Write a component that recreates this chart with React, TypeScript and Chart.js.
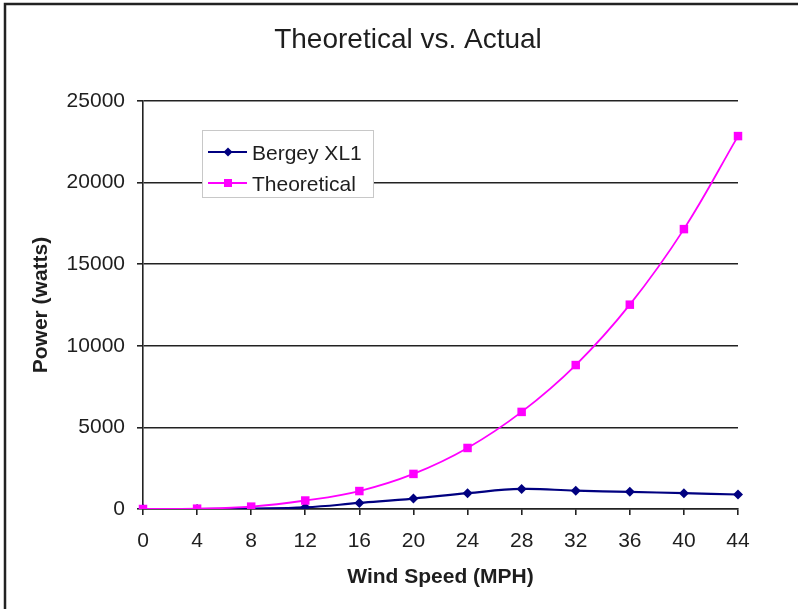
import { useEffect, useRef } from 'react';
import { Chart, registerables } from 'chart.js';

Chart.register(...registerables);

const windSpeeds = ['0', '4', '8', '12', '16', '20', '24', '28', '32', '36', '40', '44'];
const bergeyXL1 = [0, 0, 30, 100, 370, 640, 970, 1230, 1120, 1050, 970, 890];
const theoretical = [0, 20, 145, 520, 1100, 2150, 3740, 5950, 8820, 12520, 17150, 22850];
const yTickValues = [0, 5000, 10000, 15000, 20000, 25000];

const chartTitle = 'Theoretical vs. Actual';
const xTitle = 'Wind Speed (MPH)';
const yTitle = 'Power (watts)';
const seriesNames = ['Bergey XL1', 'Theoretical'];

const NAVY = '#000080';
const MAGENTA = '#FF00FF';
const INK = '#1e1e1e';
const FONT = "'Liberation Sans', Arial, sans-serif";

function drawDiamond(ctx: CanvasRenderingContext2D, x: number, y: number, r: number) {
  ctx.beginPath();
  ctx.moveTo(x, y - r);
  ctx.lineTo(x + r, y);
  ctx.lineTo(x, y + r);
  ctx.lineTo(x - r, y);
  ctx.closePath();
  ctx.fill();
}

const decorPlugin = {
  id: 'decor',
  beforeDraw(chart: any) {
    const { ctx, width, height } = chart;
    ctx.save();
    ctx.fillStyle = '#ffffff';
    ctx.fillRect(0, 0, width, height);
    ctx.strokeStyle = '#222';
    ctx.lineWidth = 2.5;
    ctx.strokeRect(5, 4, width + 40, height + 40);
    ctx.restore();
  },
  afterDraw(chart: any) {
    const { ctx } = chart;
    ctx.save();
    // title
    ctx.fillStyle = INK;
    ctx.font = `28px ${FONT}`;
    ctx.textAlign = 'center';
    ctx.textBaseline = 'alphabetic';
    ctx.fillText(chartTitle, 408, 48);

    // legend box
    const bx = 202, by = 130, bw = 171, bh = 67;
    ctx.fillStyle = '#ffffff';
    ctx.fillRect(bx, by, bw, bh);
    ctx.strokeStyle = '#c8c8c8';
    ctx.lineWidth = 1;
    ctx.strokeRect(bx + 0.5, by + 0.5, bw, bh);

    const rows = [
      { name: seriesNames[0], color: NAVY, y: 152, marker: 'diamond' },
      { name: seriesNames[1], color: MAGENTA, y: 183, marker: 'square' },
    ];
    rows.forEach((r) => {
      ctx.strokeStyle = r.color;
      ctx.lineWidth = 1.8;
      ctx.beginPath();
      ctx.moveTo(208, r.y);
      ctx.lineTo(247, r.y);
      ctx.stroke();
      ctx.fillStyle = r.color;
      if (r.marker === 'diamond') drawDiamond(ctx, 228, r.y, 4.5);
      else ctx.fillRect(224, r.y - 4, 8, 8);
      ctx.fillStyle = INK;
      ctx.font = `21px ${FONT}`;
      ctx.textAlign = 'left';
      ctx.textBaseline = 'alphabetic';
      ctx.fillText(r.name, 252, r.y + 7.5);
    });
    ctx.restore();
  },
};

export default function App() {
  const canvasRef = useRef<HTMLCanvasElement | null>(null);

  useEffect(() => {
    if (!canvasRef.current) return;
    const chart = new Chart(canvasRef.current, {
      type: 'line',
      data: {
        labels: windSpeeds,
        datasets: [
          {
            label: seriesNames[1],
            data: theoretical,
            borderColor: MAGENTA,
            backgroundColor: MAGENTA,
            borderWidth: 1.8,
            pointStyle: 'rect',
            pointRadius: 6,
            pointBorderWidth: 0,
            tension: 0.4,
            fill: false,
          },
          {
            label: seriesNames[0],
            data: bergeyXL1,
            borderColor: NAVY,
            backgroundColor: NAVY,
            borderWidth: 2.2,
            pointStyle: 'rectRot',
            pointRadius: 5,
            pointBorderWidth: 0,
            tension: 0.4,
            fill: false,
          },
        ],
      },
      options: {
        responsive: false,
        animation: false,
        devicePixelRatio: 1,
        layout: { padding: { top: 101, right: 60, bottom: 0, left: 0 } },
        plugins: {
          legend: { display: false },
          title: { display: false },
          tooltip: { enabled: false },
        },
        scales: {
          x: {
            offset: false,
            grid: {
              display: true,
              drawOnChartArea: false,
              drawTicks: true,
              tickLength: 6,
              color: '#222',
              lineWidth: 1.6,
            },
            border: { display: true, color: '#222', width: 1.6 },
            ticks: {
              color: INK,
              font: { family: FONT, size: 21 },
              padding: 14,
              maxRotation: 0,
              autoSkip: false,
            },
            title: {
              display: true,
              text: xTitle,
              color: INK,
              font: { family: FONT, size: 21, weight: 'bold' },
              padding: { top: 0, bottom: 19 },
            },
            afterFit: (scale: any) => {
              scale.height = 100;
            },
          },
          y: {
            min: 0,
            max: 25000,
            afterBuildTicks: (scale: any) => {
              scale.ticks = yTickValues.map((v) => ({ value: v }));
            },
            grid: {
              display: true,
              drawTicks: true,
              tickLength: 6,
              color: '#222',
              lineWidth: 1.6,
            },
            border: { display: true, color: '#222', width: 1.6 },
            ticks: {
              color: INK,
              font: { family: FONT, size: 21 },
              padding: 12,
              callback: (v: any) => String(v),
            },
            title: {
              display: true,
              text: yTitle,
              color: INK,
              font: { family: FONT, size: 21, weight: 'bold' },
              padding: { top: 29, bottom: 0 },
            },
            afterFit: (scale: any) => {
              scale.width = 143;
            },
          },
        },
      },
      plugins: [decorPlugin],
    });
    return () => chart.destroy();
  }, []);

  return (
    <div style={{ position: 'absolute', left: 0, top: 0, width: 798, height: 609 }}>
      <canvas ref={canvasRef} width={798} height={609} style={{ display: 'block' }} />
    </div>
  );
}
